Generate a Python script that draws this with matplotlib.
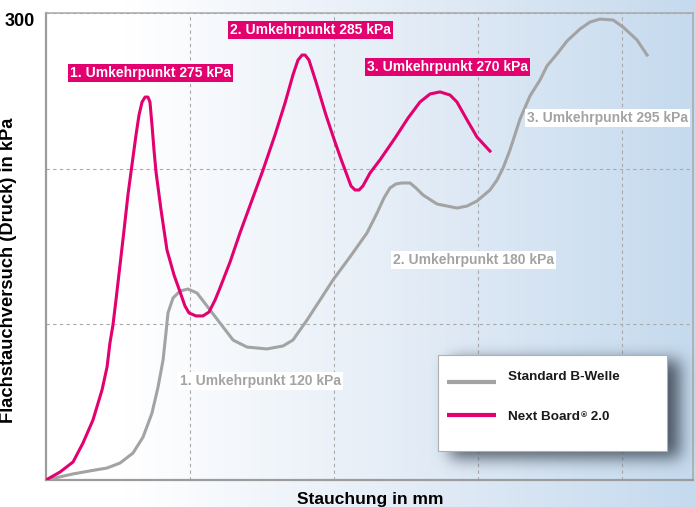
import matplotlib.pyplot as plt
import numpy as np
from matplotlib.colors import LinearSegmentedColormap
from matplotlib.patches import Rectangle
from matplotlib.lines import Line2D

plt.rcParams['font.family'] = ['Liberation Sans', 'DejaVu Sans']
plt.rcParams['font.weight'] = 'bold'

PINK = '#e3006f'
GRAU = '#a3a3a3'
GRAU_TEXT = '#a3a3a3'

# Next Board 2.0: Stauchung (mm) / Druck (kPa)
next_x = [0.000, 0.097, 0.188, 0.257, 0.326, 0.389, 0.424, 0.444, 0.465, 0.486,
          0.514, 0.542, 0.569, 0.597, 0.625, 0.646, 0.667, 0.688, 0.708, 0.722,
          0.736, 0.750, 0.764, 0.799, 0.840, 0.889, 0.931, 0.965, 0.993, 1.042,
          1.090, 1.132, 1.174, 1.208, 1.278, 1.347, 1.431, 1.507, 1.590, 1.660,
          1.715, 1.750, 1.778, 1.799, 1.826, 1.875, 1.944, 2.007, 2.056, 2.090,
          2.118, 2.146, 2.174, 2.201, 2.250, 2.319, 2.424, 2.514, 2.597, 2.667,
          2.736, 2.806, 2.854, 2.924, 2.993, 3.083]
next_y = [0.0, 5.1, 11.6, 23.8, 38.5, 57.8, 72.6, 88.0, 99.6, 115.6,
          138.1, 160.6, 183.1, 202.4, 221.6, 234.5, 242.8, 246.0, 246.0, 242.8,
          228.1, 212.0, 197.9, 173.4, 147.8, 131.7, 120.8, 111.8, 107.3, 105.4,
          105.4, 107.9, 115.6, 123.3, 140.0, 158.7, 179.9, 199.1, 221.6, 242.2,
          260.2, 269.8, 273.0, 273.0, 269.8, 255.7, 234.5, 217.1, 204.3, 195.9,
          188.9, 186.3, 186.3, 188.9, 197.2, 205.6, 219.7, 232.5, 242.8, 248.0,
          249.3, 247.3, 242.8, 231.3, 220.3, 211.3]

# Standard B-Welle
std_x = [0.000, 0.188, 0.340, 0.424, 0.514, 0.604, 0.674, 0.736, 0.778, 0.813,
         0.833, 0.847, 0.882, 0.931, 0.986, 1.049, 1.118, 1.208, 1.299, 1.396,
         1.535, 1.646, 1.715, 1.813, 1.903, 1.993, 2.111, 2.229, 2.299, 2.347,
         2.389, 2.431, 2.472, 2.528, 2.569, 2.618, 2.715, 2.854, 2.924, 2.993,
         3.083, 3.132, 3.174, 3.222, 3.292, 3.361, 3.431, 3.479, 3.549, 3.618,
         3.708, 3.778, 3.847, 3.938, 4.007, 4.104, 4.174]
std_y = [0.0, 3.9, 6.4, 7.7, 10.9, 17.3, 27.6, 43.0, 59.7, 77.1,
         94.4, 107.3, 116.9, 121.4, 122.7, 120.1, 111.8, 100.9, 89.9, 85.4,
         84.2, 86.1, 89.9, 102.8, 115.6, 128.5, 143.3, 158.7, 171.5, 181.2,
         187.6, 190.2, 190.8, 190.8, 187.6, 183.1, 177.3, 174.7, 176.0, 179.2,
         186.3, 192.7, 200.4, 212.0, 231.9, 246.7, 257.0, 266.0, 273.7, 282.0,
         289.7, 294.2, 296.1, 295.5, 291.0, 282.7, 273.0]

# Beschriftungen der Umkehrpunkte
labels_next = ["1. Umkehrpunkt 275 kPa", "2. Umkehrpunkt 285 kPa", "3. Umkehrpunkt 270 kPa"]
labels_std = ["1. Umkehrpunkt 120 kPa", "2. Umkehrpunkt 180 kPa", "3. Umkehrpunkt 295 kPa"]
# Ankerpunkte (linke Kante, Mitte) in mm / kPa
pos_next = [(0.167, 261.5), (1.278, 289.1), (2.229, 265.3)]
pos_std = [(0.931, 63.6), (2.410, 141.3), (3.340, 232.5)]

W, H = 696, 507
fig = plt.figure(figsize=(W / 100, H / 100), dpi=100)

# Hintergrundverlauf weiss -> hellblau
bg = fig.add_axes([0, 0, 1, 1], zorder=-10)
cmap = LinearSegmentedColormap.from_list(
    'bg', [(0.0, '#ffffff'), (0.18, '#ffffff'), (0.55, '#e6eef7'), (1.0, '#c5daee')])
grad = np.linspace(0, 1, 512).reshape(1, -1)
bg.imshow(grad, aspect='auto', cmap=cmap, extent=[0, 1, 0, 1])
bg.axis('off')

ax_l, ax_b, ax_w, ax_h = 46, 27, 647, 467
ax = fig.add_axes([ax_l / W, ax_b / H, ax_w / W, ax_h / H])
ax.set_facecolor('none')

ax.plot(std_x, std_y, color=GRAU, lw=2.2, solid_joinstyle='round', zorder=3)
ax.plot(next_x, next_y, color=PINK, lw=2.2, solid_joinstyle='round', zorder=4)

ax.set_xticks([1, 2, 3, 4])
ax.set_xticklabels([])
ax.set_yticks([100, 200, 300])
ax.set_yticklabels(['', '', '300'])
ax.tick_params(length=0)
ax.tick_params(axis='y', pad=8, labelsize=13)
for lbl in ax.get_yticklabels():
    lbl.set_va('top')
    lbl.set_fontweight('bold')
ax.grid(True, linestyle=(0, (3, 3)), color='#aaaaaa', lw=0.8, zorder=1)

for side in ['left', 'bottom']:
    ax.spines[side].set_color('#9c9c9c')
    ax.spines[side].set_linewidth(1.6)
for side in ['top', 'right']:
    ax.spines[side].set_color('#a8a8a8')
    ax.spines[side].set_linewidth(1.1)

for txt, (x, y) in zip(labels_next, pos_next):
    ax.text(x, y, txt, color='white', fontsize=10, fontweight='bold',
            ha='left', va='center', zorder=6,
            bbox=dict(boxstyle='square,pad=0.12', fc=PINK, ec='none'))
for txt, (x, y) in zip(labels_std, pos_std):
    ax.text(x, y, txt, color=GRAU_TEXT, fontsize=10, fontweight='bold',
            ha='left', va='center', zorder=6,
            bbox=dict(boxstyle='square,pad=0.12', fc='white', ec='none'))

ax.set_ylabel('Flachstauchversuch (Druck) in kPa', fontsize=13.2, fontweight='bold')
ax.yaxis.set_label_coords(-29 / ax_w, 0.449)
ax.set_xlabel('Stauchung in mm', fontsize=12.5, fontweight='bold')
ax.xaxis.set_label_coords(0.501, -0.026)


# Legende mit weichem Schatten (Pixel -> Achsenkoordinaten)
def px(x, y):
    return ((x - ax_l) / ax_w, (H - ax_b - y) / ax_h)


box = (438, 355, 667, 451)
# weichgezeichneter Schatten als Bild
m = 40
sx0, sy0, sx1, sy1 = box[0] - m, box[1] - m, box[2] + m, box[3] + m
yy, xx = np.mgrid[sy0:sy1, sx0:sx1]
mask = ((xx >= box[0] + 12) & (xx <= box[2] + 12) &
        (yy >= box[1] + 6) & (yy <= box[3] + 6)).astype(float)
k = np.exp(-0.5 * (np.arange(-24, 25) / 8.0) ** 2)
k /= k.sum()
mask = np.apply_along_axis(lambda r: np.convolve(r, k, mode='same'), 1, mask)
mask = np.apply_along_axis(lambda c: np.convolve(c, k, mode='same'), 0, mask)
shadow = np.zeros(mask.shape + (4,))
shadow[..., :3] = np.array([0x34, 0x40, 0x4c]) / 255
shadow[..., 3] = 0.85 * mask
e0x, e0y = px(sx0, sy1)
e1x, e1y = px(sx1, sy0)
ax.imshow(shadow, extent=[e0x, e1x, e0y, e1y], transform=ax.transAxes,
          interpolation='bilinear', aspect='auto', zorder=7, clip_on=False)

lx0, ly0 = px(box[0], box[3])
lx1, ly1 = px(box[2], box[1])
ax.add_patch(Rectangle((lx0, ly0), lx1 - lx0, ly1 - ly0, transform=ax.transAxes,
                       fc='white', ec='#b0b0b0', lw=0.8, zorder=8, clip_on=False))

ax.set_xlim(0, ax_w / 144)
ax.set_ylim(0, 300)

legend_items = [("Standard B-Welle", GRAU, 382, 377),
                ("Next Board", PINK, 415, 417)]
texts = []
for name, col, yl, yt in legend_items:
    a, b = px(447, yl)
    c, _ = px(496, yl)
    ax.add_line(Line2D([a, c], [b, b], transform=ax.transAxes, color=col,
                       lw=3, solid_capstyle='butt', zorder=9))
    tx, ty = px(508, yt)
    texts.append(ax.text(tx, ty, name, transform=ax.transAxes, fontsize=9.7,
                         fontweight='bold', color='#1a1a1a', ha='left',
                         va='center', zorder=9))

# hochgestelltes (R) und Versionsnummer hinter "Next Board"
fig.canvas.draw()
ext = texts[1].get_window_extent()
rx = (ext.x1 + 0.5 - fig.bbox.x0) / W
r_txt = fig.text(rx, (ext.y1 - 1) / H, '®', fontsize=6, fontweight='bold',
                 color='#1a1a1a', ha='left', va='top', zorder=10)
fig.canvas.draw()
ext_r = r_txt.get_window_extent()
fig.text((ext_r.x1 + 0.5) / W, (ext.y0 + ext.y1) / 2 / H, ' 2.0', fontsize=9.7,
         fontweight='bold', color='#1a1a1a', ha='left', va='center', zorder=10)

fig.savefig('out.png', dpi=100)
